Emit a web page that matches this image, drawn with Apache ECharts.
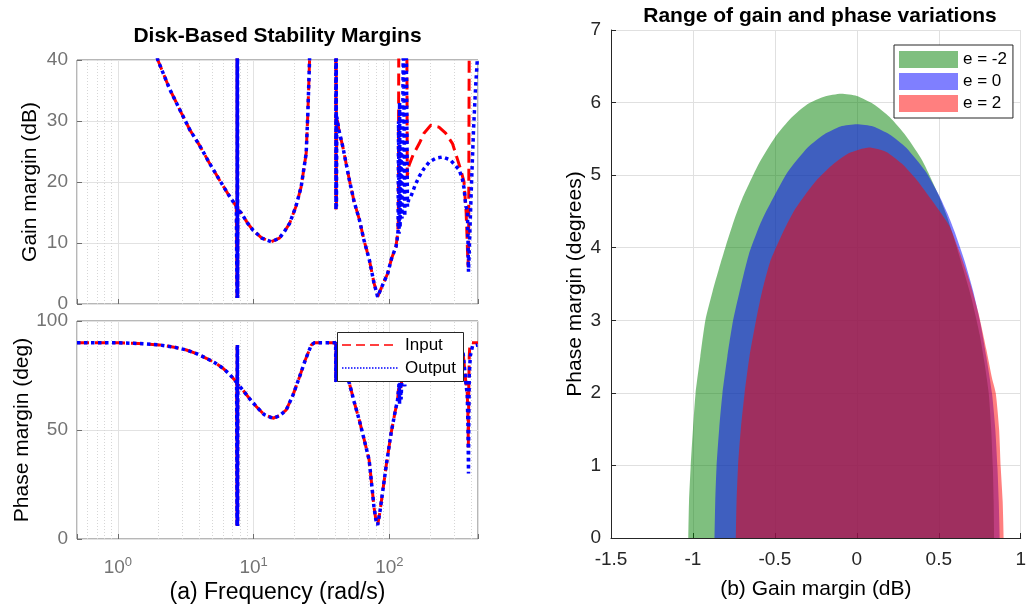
<!DOCTYPE html>
<html>
<head>
<meta charset="utf-8">
<script src="https://cdn.jsdelivr.net/npm/echarts@6/dist/echarts.min.js"></script>
<style>
html,body{margin:0;padding:0;background:#fff;}
#chart{width:1029px;height:610px;}
</style>
</head>
<body>
<div id="chart"></div>
<script>
// ---------- DATA ----------
// Frequencies (rad/s) and disk-based gain margin (dB), shared part of the curve
const gmCommon = [[1.7,46],[1.97,40],[2.4,35.3],[2.94,31.3],[3.4,28.5],[4.0,26],[4.7,23.2],[5.62,20.3],[6.5,18.0],[7.46,16],
  [7.55,1],[7.57,46],[7.59,1],[7.61,46],[7.63,1],[7.65,15.5],[8.13,14.9],[9.0,13.3],[9.9,12.1],[11.5,10.8],[13.5,10.2],
  [15.5,10.8],[17,12],[18.4,13.2],[20.5,16],[22.4,19.2],[24.4,24.7],[25.1,31.3],[25.8,39.5],[26.2,46],[33,null],
  [40.3,46],[40.45,15.5],[40.6,46],[40.75,16],[41,30.7],[42.5,28.5],[45.4,25.8],[50.8,20.3],[55,16.8],[60.2,13.8],
  [65,10.5],[71.3,7.2],[77,3.5],[82,1.2],[88,2.8],[97.2,5],[104,7.5],[112,9.4]];
const gmInputTail = [[115,11.5],[116.5,13.8],[117.5,46],[125,null],[134.5,46],[135.5,21],[140,22.8],[150,24.5],[166,26.3],
  [180,28],[202,29.3],[232,29],[260,28],[292,26.3],[336,22],[355,20],[368,15],[375,10],[380,6.1],[384,10],[388,46]];
const gmOutputTail = [[114,10.5],[116,12],[117,30],[118,11.5],[119,33],[120,12.5],[122,25],[124,14],[127,46],[130,14.4],
  [133,46],[136,16],[139,17.2],[144,17.6],[155,19.5],[166,20.9],[180,22.2],[197,23.3],[220,23.9],[246,24.1],[282,23.6],
  [327,22],[345,20.5],[355,19],[366,16],[376,15.4],[380,10],[383,5.3],[387,8],[395,14],[405,21],[418,29],[432,35.5],[446,40.5]];

// Disk-based phase margin (deg)
const pmCommon = [[0.5,90],[1.0,90],[1.3,89.8],[1.6,89.5],[2.04,89],[2.6,88],[3.2,86.7],[3.8,85],[4.49,82.9],[5.2,80.8],
  [5.96,78.3],[6.6,75.8],[7.25,72.9],[7.5,71.8],[7.55,6],[7.57,89],[7.59,6],[7.61,89],[7.63,6],[7.65,71],[8.34,68.3],
  [9.3,64.5],[10.5,60.7],[12,57],[13.9,55.4],[15.5,56.5],[17.4,59.2],[19.5,66],[21.8,74.4],[24,82],[26.6,89],[28,90],
  [40.2,90],[40.4,72],[40.6,90],[40.8,72.5],[41.2,88],[45,80],[50.8,71.4],[55,63],[60,54.6],[65,46],[71,36.2],[75,22],
  [77,14.8],[80,8],[82,6.4],[85,12],[89,21],[95,34],[103,48.5],[110,58],[115,63.8]];
const pmInputTail = [[118,71.4],[120,66],[124,74],[128,88],[135,90],[200,90],[300,89],[350,85],[366,72],[375,67],
  [380,55],[382,42],[385,70],[388,84],[392,89],[400,90],[450,90]];
const pmOutputTail = [[118,71.4],[119,62],[120,72],[122,64],[124,75],[127,88],[130,70],[133,90],[140,90],[200,90],
  [300,89],[350,85],[366,72],[375,66],[380,50],[383,30],[385,55],[388,75],[395,84],[410,88.5],[446,89]];

// Range of gain (dB) / phase (deg) variations: upper boundary of each region
const regionEm2 = [[-1.028,0],[-1.024,0.5],[-1.014,0.98],[-1.0,1.5],[-0.984,1.99],[-0.955,2.5],[-0.924,3.0],[-0.88,3.4],
  [-0.84,3.72],[-0.8,4.02],[-0.75,4.37],[-0.7,4.67],[-0.6,5.15],[-0.5,5.52],[-0.4,5.79],[-0.3,5.98],[-0.2,6.08],
  [-0.095,6.12],[0.0,6.09],[0.1,5.98],[0.2,5.8],[0.3,5.54],[0.4,5.2],[0.5,4.72],[0.55,4.43],[0.6,4.08],[0.65,3.7],
  [0.7,3.3],[0.75,2.8],[0.78,2.4],[0.805,1.99],[0.82,1.5],[0.83,0.98],[0.835,0.5],[0.838,0]];
const regionE0 = [[-0.868,0],[-0.864,0.5],[-0.856,0.98],[-0.84,1.5],[-0.82,1.99],[-0.79,2.5],[-0.755,3.0],[-0.71,3.45],
  [-0.66,3.9],[-0.6,4.27],[-0.56,4.47],[-0.5,4.73],[-0.42,5.05],[-0.3,5.38],[-0.2,5.56],[-0.1,5.67],[0.0,5.70],
  [0.1,5.67],[0.2,5.56],[0.3,5.38],[0.42,5.05],[0.5,4.73],[0.553,4.47],[0.6,4.2],[0.66,3.8],[0.71,3.4],[0.755,2.95],
  [0.79,2.5],[0.825,1.99],[0.845,1.5],[0.858,0.98],[0.866,0.5],[0.872,0]];
const regionE2 = [[-0.738,0],[-0.734,0.5],[-0.725,0.98],[-0.708,1.5],[-0.685,1.99],[-0.655,2.5],[-0.615,3.0],[-0.58,3.38],
  [-0.53,3.8],[-0.445,4.24],[-0.38,4.52],[-0.325,4.70],[-0.246,4.93],[-0.15,5.14],[-0.05,5.3],[0.074,5.38],[0.18,5.32],
  [0.274,5.16],[0.36,4.95],[0.433,4.73],[0.5,4.52],[0.565,4.3],[0.625,3.95],[0.69,3.52],[0.742,3.1],[0.79,2.6],
  [0.825,2.2],[0.848,1.99],[0.868,1.5],[0.878,0.98],[0.89,0.5],[0.896,0]];

const decadeExponents = [0, 1, 2];
const minorFreqGrid = [0.6,0.7,0.8,0.9,2,3,4,5,6,7,8,9,20,30,40,50,60,70,80,90,200,300,400];
const lineNames = ['Input', 'Output'];
const regionNames = ['e = -2', 'e = 0', 'e = 2'];

// ---------- CHART ----------
const FONT = 'Liberation Sans, Arial, Helvetica, sans-serif';
const GRAY = '#737373';
const FRAME = '#6e6e6e';
const DARK = '#262626';
const chart = echarts.init(document.getElementById('chart'), null, {renderer: 'canvas'});

function decadeLabel(v) {
  const l = Math.log10(v);
  const e = Math.round(l);
  if (Math.abs(l - e) > 1e-6 || decadeExponents.indexOf(e) < 0) return '';
  return '10{sup|' + e + '}';
}

const logAxisBase = {
  type: 'log', logBase: 10, min: 0.5, max: 450,
  axisLine: {show: false},
  axisTick: {show: true, inside: true, length: 5, lineStyle: {color: FRAME}},
  splitLine: {show: true, lineStyle: {color: '#e2e2e2', width: 1}}
};

function minorGridSeries(xi) {
  return {
    type: 'line', name: '_minor' + xi, xAxisIndex: xi, yAxisIndex: xi, data: [], z: 1, silent: true,
    markLine: {
      silent: true, symbol: 'none', z: 1, animation: false,
      label: {show: false},
      lineStyle: {color: '#d6d6d6', width: 1, type: [1, 2]},
      data: minorFreqGrid.map(v => ({xAxis: v}))
    }
  };
}

const inputStyle = {color: '#ff0000', width: 3, type: [12, 6]};
const outputStyle = {color: '#0000ff', width: 3.5, type: [3.5, 3.5]};

const option = {
  animation: false,
  textStyle: {fontFamily: FONT},
  title: [
    {text: 'Disk-Based Stability Margins', left: 277.5, top: 26, textAlign: 'center', padding: 0,
     textStyle: {fontSize: 21, fontWeight: 'bold', color: '#000', fontFamily: FONT}},
    {text: 'Range of gain and phase variations', left: 820, top: 6, textAlign: 'center', padding: 0,
     textStyle: {fontSize: 21, fontWeight: 'bold', color: '#000', fontFamily: FONT}}
  ],
  grid: [
    {left: 77, top: 60, width: 401, height: 244, show: true, borderColor: FRAME, borderWidth: 1, backgroundColor: 'transparent'},
    {left: 77, top: 321, width: 401, height: 218, show: true, borderColor: FRAME, borderWidth: 1, backgroundColor: 'transparent'},
    {left: 611, top: 30, width: 417, height: 508}
  ],
  legend: [
    {data: regionNames, left: 894, top: 45, orient: 'vertical', icon: 'rect', itemWidth: 59, itemHeight: 17, itemGap: 5,
     padding: [6, 6, 6, 5], backgroundColor: '#fff', borderColor: DARK, borderWidth: 1, selectedMode: false,
     itemStyle: {borderWidth: 0}, textStyle: {fontSize: 17, color: '#000', fontFamily: FONT}}
  ],
  graphic: [
    {type: 'rect', z: 100, shape: {x: 337.5, y: 332.5, width: 126, height: 49},
     style: {fill: '#fff', stroke: DARK, lineWidth: 1}},
    {type: 'line', z: 101, shape: {x1: 342, y1: 345, x2: 398, y2: 345},
     style: {stroke: '#ff0000', lineWidth: 1.3, lineDash: [9, 5]}},
    {type: 'line', z: 101, shape: {x1: 342, y1: 368, x2: 398, y2: 368},
     style: {stroke: '#0000ff', lineWidth: 1.3, lineDash: [1.5, 1.5]}},
    {type: 'text', z: 101, x: 405, y: 345,
     style: {text: lineNames[0], fontSize: 17, fill: '#000', verticalAlign: 'middle', fontFamily: FONT}},
    {type: 'text', z: 101, x: 405, y: 368,
     style: {text: lineNames[1], fontSize: 17, fill: '#000', verticalAlign: 'middle', fontFamily: FONT}}
  ],
  xAxis: [
    Object.assign({gridIndex: 0, axisLabel: {show: false}}, logAxisBase),
    Object.assign({gridIndex: 1,
      axisLabel: {show: true, formatter: decadeLabel, color: GRAY, fontSize: 19, margin: 17, fontFamily: FONT,
        rich: {sup: {fontSize: 13, color: GRAY, padding: [0, 0, 10, 0], fontFamily: FONT}}},
      name: '(a) Frequency (rad/s)', nameLocation: 'middle', nameGap: 42,
      nameTextStyle: {fontSize: 23, color: '#000', fontFamily: FONT}}, logAxisBase),
    {gridIndex: 2, type: 'value', min: -1.5, max: 1, interval: 0.5,
     axisLine: {show: true, onZero: false, lineStyle: {color: DARK, width: 1}},
     axisTick: {show: true, inside: true, length: 5, lineStyle: {color: DARK}},
     axisLabel: {color: DARK, fontSize: 19, margin: 12, fontFamily: FONT},
     splitLine: {show: true, lineStyle: {color: '#e0e0e0'}},
     name: '(b) Gain margin (dB)', nameLocation: 'middle', nameGap: 41,
     nameTextStyle: {fontSize: 21, color: '#000', fontFamily: FONT}}
  ],
  yAxis: [
    {gridIndex: 0, type: 'value', min: 0, max: 40, interval: 10,
     axisLine: {show: false}, axisTick: {show: true, inside: true, length: 5, lineStyle: {color: FRAME}},
     axisLabel: {color: GRAY, fontSize: 19, margin: 9, fontFamily: FONT},
     splitLine: {show: true, lineStyle: {color: '#e2e2e2'}},
     name: 'Gain margin (dB)', nameLocation: 'middle', nameGap: 36,
     nameTextStyle: {fontSize: 21, color: '#000', fontFamily: FONT}},
    {gridIndex: 1, type: 'value', min: 0, max: 100, interval: 50,
     axisLine: {show: false}, axisTick: {show: true, inside: true, length: 5, lineStyle: {color: FRAME}},
     axisLabel: {color: GRAY, fontSize: 19, margin: 9, fontFamily: FONT},
     splitLine: {show: true, lineStyle: {color: '#e2e2e2'}},
     name: 'Phase margin (deg)', nameLocation: 'middle', nameGap: 36,
     nameTextStyle: {fontSize: 21, color: '#000', fontFamily: FONT}},
    {gridIndex: 2, type: 'value', min: 0, max: 7, interval: 1,
     axisLine: {show: true, onZero: false, lineStyle: {color: DARK, width: 1}},
     axisTick: {show: true, inside: true, length: 5, lineStyle: {color: DARK}},
     axisLabel: {color: DARK, fontSize: 19, margin: 10, fontFamily: FONT},
     splitLine: {show: true, lineStyle: {color: '#e0e0e0'}},
     name: 'Phase margin (degrees)', nameLocation: 'middle', nameGap: 25,
     nameTextStyle: {fontSize: 21, color: '#000', fontFamily: FONT}}
  ],
  series: [
    minorGridSeries(0),
    minorGridSeries(1),
    {type: 'line', name: lineNames[0], xAxisIndex: 0, yAxisIndex: 0, data: gmCommon.concat(gmInputTail),
     symbol: 'none', clip: true, color: '#ff0000', lineStyle: inputStyle, z: 3},
    {type: 'line', name: lineNames[1], xAxisIndex: 0, yAxisIndex: 0, data: gmCommon.concat(gmOutputTail),
     symbol: 'none', clip: true, color: '#0000ff', lineStyle: outputStyle, z: 4},
    {type: 'line', name: lineNames[0], xAxisIndex: 1, yAxisIndex: 1, data: pmCommon.concat(pmInputTail),
     symbol: 'none', clip: true, color: '#ff0000', lineStyle: inputStyle, z: 3},
    {type: 'line', name: lineNames[1], xAxisIndex: 1, yAxisIndex: 1, data: pmCommon.concat(pmOutputTail),
     symbol: 'none', clip: true, color: '#0000ff', lineStyle: outputStyle, z: 4},
    {type: 'line', name: regionNames[0], xAxisIndex: 2, yAxisIndex: 2, data: regionEm2, symbol: 'none', smooth: 0.2,
     color: 'rgba(0,128,0,0.5)', lineStyle: {width: 0}, areaStyle: {color: 'rgba(0,128,0,0.5)', opacity: 1}, z: 2},
    {type: 'line', name: regionNames[1], xAxisIndex: 2, yAxisIndex: 2, data: regionE0, symbol: 'none', smooth: 0.2,
     color: 'rgba(0,0,255,0.5)', lineStyle: {width: 0}, areaStyle: {color: 'rgba(0,0,255,0.5)', opacity: 1}, z: 2},
    {type: 'line', name: regionNames[2], xAxisIndex: 2, yAxisIndex: 2, data: regionE2, symbol: 'none', smooth: 0.2,
     color: 'rgba(255,0,0,0.5)', lineStyle: {width: 0}, areaStyle: {color: 'rgba(255,0,0,0.5)', opacity: 1}, z: 2}
  ]
};
chart.setOption(option);
</script>
</body>
</html>
